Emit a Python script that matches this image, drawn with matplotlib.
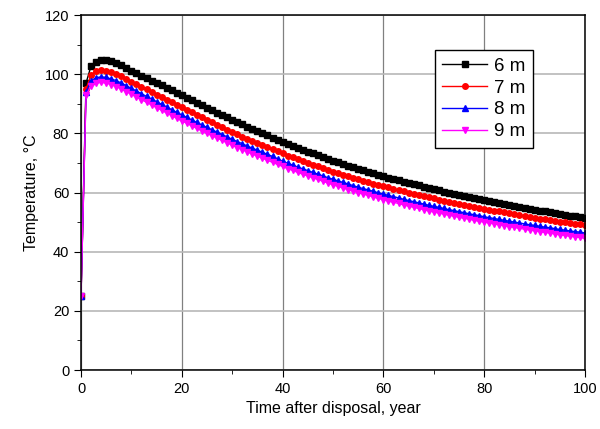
import numpy as np
import matplotlib.pyplot as plt

plt.rcParams['font.family'] = ['Liberation Sans', 'DejaVu Sans']

years = np.arange(0, 101)

temp_6m = [
    25, 97.0, 102.8, 104.2, 104.8, 104.7, 104.3, 103.7, 103.0, 102.1, 101.2,
    100.3, 99.5, 98.7, 97.8, 97.0, 96.2, 95.4, 94.6, 93.8, 93.0,
    92.1, 91.3, 90.4, 89.6, 88.7, 87.9, 87.0, 86.2, 85.4, 84.6,
    83.8, 83.0, 82.2, 81.5, 80.7, 80.0, 79.3, 78.5, 77.8, 77.1,
    76.4, 75.8, 75.1, 74.5, 73.8, 73.2, 72.6, 72.0, 71.4, 70.8,
    70.2, 69.7, 69.1, 68.6, 68.0, 67.5, 67.0, 66.5, 66.0, 65.5,
    65.0, 64.6, 64.1, 63.7, 63.2, 62.8, 62.4, 62.0, 61.5, 61.1,
    60.7, 60.3, 59.9, 59.6, 59.2, 58.8, 58.5, 58.1, 57.7, 57.4,
    57.0, 56.7, 56.4, 56.0, 55.7, 55.4, 55.1, 54.8, 54.5, 54.2,
    53.9, 53.6, 53.3, 53.0, 52.7, 52.5, 52.2, 51.9, 51.7, 51.4,
]
temp_7m = [
    25, 95.0, 99.8, 101.0, 101.3, 101.1, 100.7, 100.1, 99.3, 98.4, 97.5,
    96.6, 95.7, 94.9, 94.0, 93.1, 92.3, 91.4, 90.6, 89.7, 88.9,
    88.0, 87.2, 86.3, 85.5, 84.6, 83.8, 82.9, 82.1, 81.3, 80.5,
    79.7, 78.9, 78.2, 77.4, 76.7, 76.0, 75.3, 74.6, 73.9, 73.2,
    72.5, 71.9, 71.3, 70.6, 70.0, 69.4, 68.8, 68.2, 67.7, 67.1,
    66.6, 66.0, 65.5, 65.0, 64.5, 64.0, 63.5, 63.0, 62.6, 62.1,
    61.7, 61.2, 60.8, 60.4, 60.0, 59.6, 59.2, 58.8, 58.4, 58.0,
    57.6, 57.3, 56.9, 56.6, 56.2, 55.9, 55.5, 55.2, 54.9, 54.5,
    54.2, 53.9, 53.6, 53.3, 53.0, 52.7, 52.4, 52.1, 51.8, 51.5,
    51.2, 51.0, 50.7, 50.4, 50.2, 49.9, 49.7, 49.4, 49.2, 48.9,
]
temp_8m = [
    25, 94.0, 97.8, 98.8, 99.1, 98.9, 98.4, 97.8, 97.0, 96.1, 95.2,
    94.3, 93.4, 92.5, 91.6, 90.7, 89.8, 88.9, 88.0, 87.1, 86.2,
    85.4, 84.5, 83.7, 82.8, 82.0, 81.2, 80.4, 79.6, 78.8, 78.0,
    77.2, 76.5, 75.7, 75.0, 74.3, 73.6, 72.9, 72.2, 71.4, 70.6,
    69.9, 69.3, 68.6, 68.0, 67.4, 66.8, 66.2, 65.6, 65.0, 64.5,
    63.9, 63.4, 62.9, 62.3, 61.8, 61.3, 60.9, 60.4, 59.9, 59.5,
    59.0, 58.6, 58.2, 57.7, 57.3, 56.9, 56.5, 56.1, 55.7, 55.3,
    55.0, 54.6, 54.2, 53.9, 53.5, 53.2, 52.8, 52.5, 52.2, 51.8,
    51.5, 51.2, 50.9, 50.6, 50.3, 50.0, 49.7, 49.4, 49.1, 48.9,
    48.6, 48.3, 48.1, 47.8, 47.5, 47.3, 47.0, 46.8, 46.6, 46.3,
]
temp_9m = [
    25, 93.0, 96.0, 97.0, 97.2, 97.0, 96.5, 95.8, 95.0, 94.1, 93.2,
    92.3, 91.4, 90.5, 89.6, 88.7, 87.8, 86.9, 86.0, 85.1, 84.2,
    83.4, 82.5, 81.7, 80.8, 80.0, 79.2, 78.4, 77.6, 76.8, 76.0,
    75.2, 74.5, 73.7, 73.0, 72.3, 71.6, 70.9, 70.2, 69.5, 68.8,
    68.1, 67.5, 66.8, 66.2, 65.6, 65.0, 64.4, 63.8, 63.2, 62.6,
    62.1, 61.5, 61.0, 60.5, 60.0, 59.5, 59.0, 58.5, 58.0, 57.6,
    57.1, 56.7, 56.3, 55.8, 55.4, 55.0, 54.6, 54.2, 53.8, 53.4,
    53.1, 52.7, 52.3, 52.0, 51.6, 51.3, 51.0, 50.6, 50.3, 50.0,
    49.7, 49.4, 49.1, 48.8, 48.5, 48.2, 47.9, 47.6, 47.3, 47.1,
    46.8, 46.5, 46.3, 46.0, 45.7, 45.5, 45.2, 45.0, 44.8, 44.5,
]

series = [
    ('6 m', temp_6m, 'black', 's'),
    ('7 m', temp_7m, 'red', 'o'),
    ('8 m', temp_8m, 'blue', '^'),
    ('9 m', temp_9m, 'magenta', 'v'),
]

fig = plt.figure(figsize=(6, 4.29), dpi=100)
ax = fig.add_axes([0.135, 0.1375, 0.84, 0.8275])

for label, vals, color, marker in series:
    ax.plot(years, vals, color=color, marker=marker, markersize=4,
            linewidth=1, label=label)

ax.set_xlim(0, 100)
ax.set_ylim(0, 120)
ax.set_xticks(np.arange(0, 101, 20))
ax.set_yticks(np.arange(0, 121, 20))
ax.set_xticks(np.arange(10, 100, 20), minor=True)
ax.set_yticks(np.arange(10, 120, 20), minor=True)
ax.tick_params(which='major', direction='out', length=5, labelsize=10.5)
ax.tick_params(which='minor', direction='out', length=3)

ax.grid(True, axis='x', which='major', color='#808080', linewidth=0.9)
ax.grid(True, axis='y', which='major', color='#b8b8b8', linewidth=1.2)
ax.set_axisbelow(True)
for sp in ax.spines.values():
    sp.set_linewidth(1.1)

ax.set_xlabel('Time after disposal, year', fontsize=11.5)
ax.set_ylabel('Temperature, \u00b0C', fontsize=11.5)

leg = ax.legend(loc='upper left', bbox_to_anchor=(0.702, 0.901), fontsize=13.5,
                fancybox=False, framealpha=1, edgecolor='black',
                handlelength=2.4, handletextpad=0.35, borderpad=0.4,
                labelspacing=0.25, borderaxespad=0)
leg.get_frame().set_linewidth(1.0)

fig.savefig('out.png', dpi=100)
